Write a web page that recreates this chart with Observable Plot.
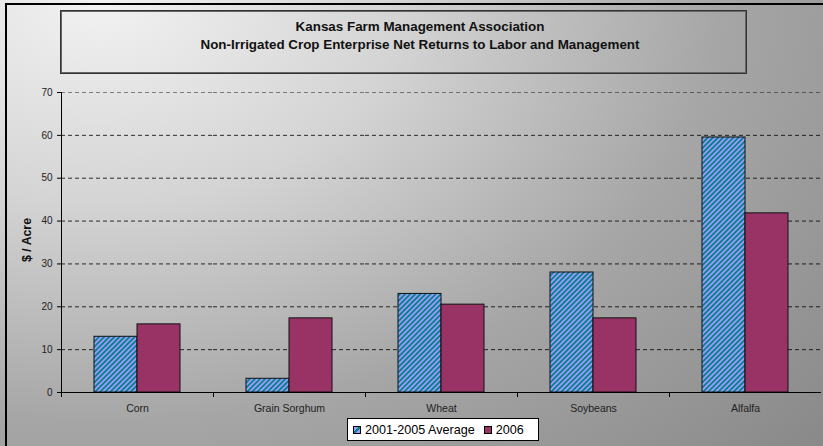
<!DOCTYPE html>
<html>
<head>
<meta charset="utf-8">
<script src="https://cdn.jsdelivr.net/npm/d3@7"></script>
<script src="https://cdn.jsdelivr.net/npm/@observablehq/plot@0.6"></script>
<style>
  html, body { margin: 0; padding: 0; background: #8a8a8a; }
  body { width: 823px; height: 446px; overflow: hidden; font-family: "Liberation Sans", Arial, sans-serif; }
  #chart {
    position: relative; width: 840px; height: 460px; overflow: hidden;
    background: radial-gradient(ellipse 1000px 680px at 100px 0px, #f2f2f2 0%, #d4d4d4 30%, #a6a6a6 62%, #878787 100%);
  }
  #frame { position: absolute; left: 5px; top: 3px; width: 900px; height: 500px; border-left: 2px solid #000; border-top: 2px solid #000; pointer-events: none; }
  #titlebox {
    position: absolute; left: 60px; top: 10px; width: 685px; height: 62px;
    border: 1px solid #333; box-shadow: inset 0 0 0 1px #666;
  }
  #titletext {
    position: absolute; left: 420px; top: 18px; transform: translateX(-50%);
    text-align: center; font-weight: bold; font-size: 13.4px; line-height: 18px; color: #111; white-space: nowrap;
  }
  #ylabel {
    position: absolute; left: 27px; top: 240px; transform: translate(-50%, -50%) rotate(-90deg);
    font-weight: bold; font-size: 12.3px; color: #111; white-space: nowrap;
  }
  #legend {
    position: absolute; left: 347px; top: 418px; width: 190px; height: 21px;
    background: #fff; border: 1px solid #000; display: flex; align-items: center;
    font-size: 12.6px; color: #000; white-space: nowrap; box-sizing: content-box;
  }
  .sw { display: inline-block; width: 6px; height: 6px; border: 1px solid #000; margin-right: 4px; }
  .item { display: flex; align-items: center; }
  #chart > svg { position: absolute; left: 0; top: 0; }
</style>
</head>
<body>
<div id="chart"></div>
<script>
const categories = ["Corn", "Grain Sorghum", "Wheat", "Soybeans", "Alfalfa"];
const seriesNames = ["2001-2005 Average", "2006"];
const avgValues = [13.0, 3.2, 23.0, 28.0, 59.5];
const values2006 = [15.9, 17.3, 20.5, 17.3, 41.8];
const yTicks = [0, 10, 20, 30, 40, 50, 60, 70];
const titleLines = ["Kansas Farm Management Association", "Non-Irrigated Crop Enterprise Net Returns to Labor and Management"];
const yLabel = "$ / Acre";

const data = [];
categories.forEach((c, i) => {
  data.push({category: c, series: seriesNames[0], value: avgValues[i]});
  data.push({category: c, series: seriesNames[1], value: values2006[i]});
});

const chart = document.getElementById("chart");

const plot = Plot.plot({
  width: 823,
  height: 446,
  marginLeft: 59,
  marginRight: 0,
  marginTop: 92,
  marginBottom: 54,
  style: {background: "transparent", fontFamily: "Liberation Sans, Arial, sans-serif", fontSize: "10.5px", color: "#222"},
  fx: {domain: categories, padding: 0, label: null},
  x: {domain: seriesNames, paddingInner: 0, paddingOuter: 0.736, axis: null},
  y: {domain: [0, 70], label: null},
  color: {domain: seriesNames, range: ["url(#hatch)", "#993366"]},
  marks: [
    Plot.gridY({ticks: yTicks.filter(t => t > 0 && t < 70), stroke: "#000", strokeOpacity: 0.8, strokeDasharray: "4,3"}),
    Plot.gridY({ticks: [70], stroke: "#000", strokeOpacity: 0.45, strokeDasharray: "4,3"}),
    Plot.barY(data, {fx: "category", x: "series", y: "value", fill: "series", stroke: "#111", strokeWidth: 1}),
    Plot.ruleY([0], {stroke: "#000", strokeWidth: 1}),
    Plot.frame({anchor: "left", stroke: "#000", insetTop: 300, insetBottom: -4}),
    Plot.frame({anchor: "left", stroke: "#000", facetAnchor: "left"}),
    Plot.axisY({ticks: yTicks, tickSize: 4, tickPadding: 5, label: null, stroke: "#000", fill: "#222", fontSize: 10}),
    Plot.axisFx({anchor: "bottom", tickSize: 0, tickPadding: 12, label: null, fill: "#222"})
  ]
});

d3.select(plot).insert("defs", ":first-child").html(`
  <pattern id="hatch" patternUnits="userSpaceOnUse" width="3.6" height="3.6" patternTransform="rotate(45)">
    <rect x="0" y="0" width="3.6" height="3.6" fill="#9999ff"></rect>
    <rect x="0" y="0" width="1.7" height="3.6" fill="#008080"></rect>
  </pattern>`);

chart.appendChild(plot);

const titlebox = document.createElement("div");
titlebox.id = "titlebox";
chart.appendChild(titlebox);
const title = document.createElement("div");
title.id = "titletext";
titleLines.forEach(t => { const d = document.createElement("div"); d.textContent = t; title.appendChild(d); });
chart.appendChild(title);

const yl = document.createElement("div");
yl.id = "ylabel";
yl.textContent = yLabel;
chart.appendChild(yl);

const legend = document.createElement("div");
legend.id = "legend";
const swatchBg = [
  "linear-gradient(135deg, #9999ff 0%, #9999ff 40%, #008080 40%, #008080 60%, #9999ff 60%)",
  "#993366"
];
seriesNames.forEach((s, i) => {
  const it = document.createElement("span");
  it.className = "item";
  it.style.marginLeft = i === 0 ? "5px" : "9px";
  const sw = document.createElement("span");
  sw.className = "sw";
  sw.style.background = swatchBg[i];
  it.appendChild(sw);
  const tx = document.createElement("span");
  tx.textContent = s;
  it.appendChild(tx);
  legend.appendChild(it);
});
chart.appendChild(legend);

const frame = document.createElement("div");
frame.id = "frame";
chart.appendChild(frame);
</script>
</body>
</html>
